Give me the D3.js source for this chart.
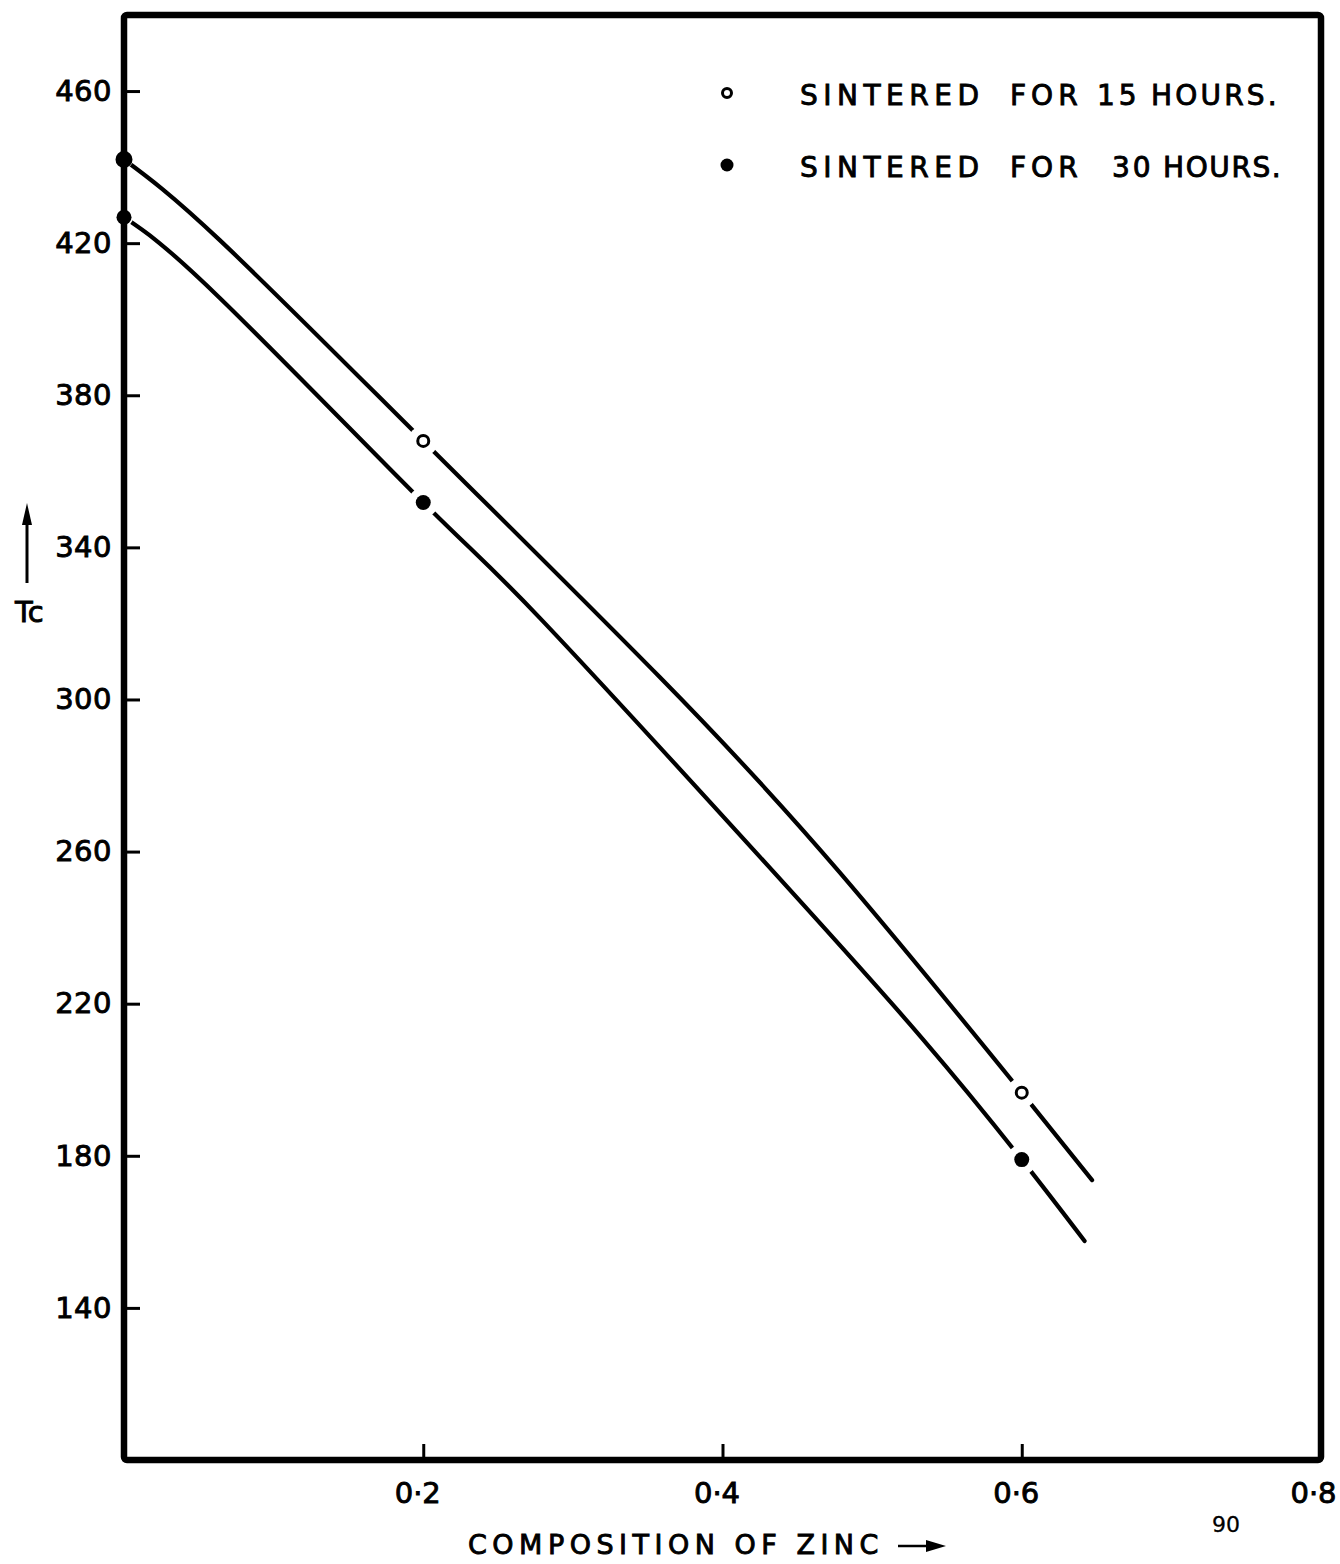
<!DOCTYPE html>
<html>
<head>
<meta charset="utf-8">
<script src="https://cdn.jsdelivr.net/npm/d3@7"></script>
<style>
  html, body { margin: 0; padding: 0; background: #fff; }
  svg { display: block; }
  text { font-family: "DejaVu Sans", sans-serif; fill: #000; stroke: #000; stroke-width: 0.9px; }
</style>
</head>
<body>
<svg id="chart" width="1340" height="1564"></svg>
<script>
// Curie temperature Tc vs. zinc content, two sintering times
const yTicks = [140, 180, 220, 260, 300, 340, 380, 420, 460];
const xTicks = [0.2, 0.4, 0.6, 0.8];
const xTickLabels = ["0·2", "0·4", "0·6", "0·8"];

// measured points
const zinc15 = [0, 0.2, 0.6];
const tc15 = [442, 368, 196.6];
const zinc30 = [0, 0.2, 0.6];
const tc30 = [426.8, 351.8, 179];

// hand-drawn curves through the measurements
const curve15x = [0, 0.064, 0.2, 0.358, 0.4786, 0.6, 0.647];
const curve15y = [442, 420.8, 368, 305.9, 254.4, 196.6, 173.6];
const curve30x = [0, 0.064, 0.2, 0.278, 0.425, 0.5334, 0.6, 0.642];
const curve30y = [426.8, 405.6, 351.8, 321.4, 258.6, 210.9, 179, 157.6];

// legend words (drawn word by word for spacing)
const legendWords15 = ["SINTERED", "FOR", "15", "HOURS."];
const legendWords30 = ["SINTERED", "FOR", "30", "HOURS."];

const svg = d3.select("#chart");
const x = d3.scaleLinear().domain([0, 0.8]).range([124, 1321]);
const y = d3.scaleLinear().domain([100, 480]).range([1460, 15]);

const line = d3.line().x(d => x(d[0])).y(d => y(d[1])).curve(d3.curveNatural);

const curves = [
  d3.zip(curve15x, curve15y),
  d3.zip(curve30x, curve30y)
];
svg.append("g").selectAll("path").data(curves).join("path")
  .attr("d", line)
  .attr("fill", "none")
  .attr("stroke", "#000")
  .attr("stroke-width", 4.2)
  .attr("stroke-linecap", "round");

// white halos break the curves around each marker
const pts15 = d3.zip(zinc15, tc15);
const pts30 = d3.zip(zinc30, tc30);
svg.append("g").selectAll("circle").data(pts15.concat(pts30)).join("circle")
  .attr("cx", d => x(d[0])).attr("cy", d => y(d[1]))
  .attr("r", d => d[0] === 0 ? 9 : 15)
  .attr("fill", "#fff");

// frame with inward ticks
svg.append("rect")
  .attr("x", x(0)).attr("y", y(480))
  .attr("width", x(0.8) - x(0)).attr("height", y(100) - y(480))
  .attr("fill", "none").attr("stroke", "#000").attr("stroke-width", 6.5)
  .attr("rx", 3);

const yAxis = d3.axisLeft(y).tickValues(yTicks).tickSize(-16).tickPadding(10).tickFormat(d3.format("d"));
const gy = svg.append("g").attr("transform", `translate(${x(0)},0)`).call(yAxis);
gy.select(".domain").remove();
gy.selectAll(".tick line").attr("stroke", "#000").attr("stroke-width", 3);
gy.selectAll(".tick text")
  .attr("x", -12)
  .style("font-size", "29px")
  .style("font-family", "DejaVu Sans, sans-serif")
  .style("letter-spacing", "0.5px");

const xAxis = d3.axisBottom(x).tickValues(xTicks).tickSize(-16).tickPadding(22)
  .tickFormat((d, i) => xTickLabels[i]);
const gx = svg.append("g").attr("transform", `translate(0,${y(100)})`).call(xAxis);
gx.select(".domain").remove();
gx.selectAll(".tick line").attr("stroke", "#000").attr("stroke-width", 3)
  .filter(d => d === 0.8).remove();
gx.selectAll(".tick text")
  .style("font-size", "29px")
  .style("font-family", "DejaVu Sans, sans-serif")
  .attr("dx", d => d === 0.8 ? -8 : -6);

// markers
svg.append("g").selectAll("circle").data(pts15).join("circle")
  .attr("cx", d => x(d[0])).attr("cy", d => y(d[1]))
  .attr("r", d => d[0] === 0 ? 7 : 5.5)
  .attr("fill", d => d[0] === 0 ? "#000" : "#fff")
  .attr("stroke", "#000").attr("stroke-width", 3);
svg.append("g").selectAll("circle").data(pts30).join("circle")
  .attr("cx", d => x(d[0])).attr("cy", d => y(d[1]))
  .attr("r", 7.5)
  .attr("fill", "#000");

// legend
const legendRows = [
  { words: legendWords15, xs: [800, 1010, 1097, 1151], spacing: [5.5, 5, 4, 3.2], open: true },
  { words: legendWords30, xs: [800, 1010, 1112, 1163], spacing: [5.5, 5, 3, 1.6], open: false }
];
legendRows.forEach((row, i) => {
  const cy = 93 + i * 72;
  svg.append("circle")
    .attr("cx", 727).attr("cy", cy)
    .attr("r", row.open ? 4.5 : 6.5)
    .attr("fill", row.open ? "#fff" : "#000")
    .attr("stroke", "#000").attr("stroke-width", row.open ? 3 : 0);
  row.words.forEach((w, j) => {
    svg.append("text")
      .attr("x", row.xs[j])
      .attr("y", cy + 12)
      .style("font-size", "28px")
      .style("letter-spacing", row.spacing[j] + "px")
      .text(w);
  });
});

// axis titles
svg.append("text")
  .attr("x", 468).attr("y", 1554)
  .style("font-size", "27px")
  .style("letter-spacing", "5.5px")
  .text("COMPOSITION OF ZINC");
svg.append("line")
  .attr("x1", 898).attr("y1", 1546).attr("x2", 930).attr("y2", 1546)
  .attr("stroke", "#000").attr("stroke-width", 2.5);
svg.append("path")
  .attr("d", "M 946 1546 L 926 1540 L 926 1552 Z")
  .attr("fill", "#000");

svg.append("line")
  .attr("x1", 27).attr("y1", 583).attr("x2", 27).attr("y2", 520)
  .attr("stroke", "#000").attr("stroke-width", 3);
svg.append("path")
  .attr("d", "M 27 503 L 22 525 L 32 525 Z")
  .attr("fill", "#000");
svg.append("text")
  .attr("x", 15).attr("y", 622)
  .style("font-size", "29px")
  .text("Tc");

svg.append("text")
  .attr("x", 1212).attr("y", 1532)
  .style("font-size", "22px")
  .style("stroke-width", "0.3px")
  .text("90");
</script>
</body>
</html>
